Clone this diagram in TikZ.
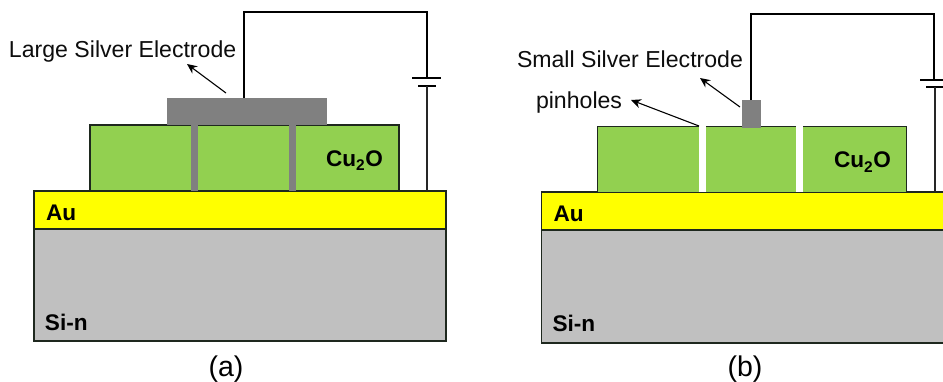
\documentclass[tikz,border=0pt]{standalone}
\usepackage{fontspec}
\setmainfont{Liberation Sans}
\usetikzlibrary{arrows.meta}
\definecolor{cuoxide}{RGB}{146,208,80}
\definecolor{silverel}{RGB}{128,128,128}
\definecolor{sisub}{RGB}{192,192,192}
\definecolor{edgeink}{RGB}{30,40,30}
\definecolor{aulayer}{RGB}{255,255,0}
\newcommand{\cuox}{Cu\raisebox{-4.5pt}{\fontsize{15.5}{16}\selectfont 2}\kern0.6pt O}
\tikzset{
 x=1pt,y=-1pt,
 layer/.style={anchor=north west,inner sep=0pt,outer sep=0pt,draw=edgeink,line width=1.1pt},
 silverbox/.style={anchor=north west,inner sep=0pt,outer sep=0pt,fill=silverel},
 gapbox/.style={anchor=north west,inner sep=0pt,outer sep=0pt},
 lbl/.style={inner sep=0pt,outer sep=0pt,anchor=base west,font=\fontsize{23.1}{26}\selectfont,text=black!95},
 mat/.style={inner sep=0pt,outer sep=0pt,anchor=base west,font=\fontsize{22.6}{26}\selectfont\bfseries},
 captext/.style={inner sep=0pt,outer sep=0pt,anchor=base,font=\fontsize{28.5}{32}\selectfont},
 wire/.style={draw=black,line width=1.6pt,line join=miter},
 thinwire/.style={draw=black!85,line width=1.2pt},
 plate/.style={draw=black,line width=1.6pt},
 pointer/.style={draw=black,line width=1.1pt,-{Stealth[length=10pt,width=9pt]}}
}
\begin{document}
\begin{tikzpicture}
\clip (0,0) rectangle (943,381);
\fill[white] (0,0) rectangle (943,381);
% ---------- panel (a)
\node[layer,fill=sisub,minimum width=412pt,minimum height=112pt] (siA) at (34,229) {};
\node[layer,fill=aulayer,minimum width=412pt,minimum height=38pt] (auA) at (34,191) {};
\node[layer,fill=cuoxide,minimum width=309pt,minimum height=66pt] (cuA) at (90,125) {};
\node[silverbox,minimum width=160pt,minimum height=27pt] (elA) at (167,98) {};
\node[silverbox,minimum width=7pt,minimum height=65.5pt] (pinA1) at (191,125) {};
\node[silverbox,minimum width=7pt,minimum height=65.5pt] (pinA2) at (289,125) {};
\coordinate (wA0) at (244,98);
\coordinate (wA1) at (244,12);
\coordinate (wA2) at (427,12);
\coordinate (wA3) at (427,78);
\coordinate (wA4) at (427,86);
\coordinate (wA5) at (427,191);
\coordinate (pA1l) at (412,78); \coordinate (pA1r) at (441,78);
\coordinate (pA2l) at (418,86); \coordinate (pA2r) at (436,86);
\draw[wire] (wA0) -- (wA1) -- (wA2) -- (wA3);
\draw[plate] (pA1l) -- (pA1r);
\draw[plate] (pA2l) -- (pA2r);
\draw[thinwire] (wA4) -- (wA5);
\node[lbl] (lblA) at (9,57.5) {Large Silver Electrode};
\coordinate (arA) at (226,93);
\coordinate (arAe) at (187,64);
\draw[pointer] (arA) -- (arAe);
\node[mat] (cuTA) at (326,166) {\cuox};
\node[mat] (auTA) at (46,220) {Au};
\node[mat] (siTA) at (45,330) {Si-n};
\node[captext] (capA) at (226,376) {(a)};
% ---------- panel (b)
\node[layer,fill=sisub,minimum width=440pt,minimum height=113pt] (siB) at (541.5,230) {};
\node[layer,fill=aulayer,minimum width=440pt,minimum height=38pt] (auB) at (541.5,192) {};
\node[layer,fill=cuoxide,minimum width=309pt,minimum height=66pt] (cuB) at (597.5,126.5) {};
\node[gapbox,fill=white,minimum width=7pt,minimum height=65.5pt] (pinB1) at (699,126) {};
\node[gapbox,fill=white,minimum width=7pt,minimum height=65.5pt] (pinB2) at (796,126) {};
\node[silverbox,minimum width=19pt,minimum height=27.5pt] (elB) at (742,100) {};
\coordinate (wB0) at (751,100);
\coordinate (wB1) at (751,14);
\coordinate (wB2) at (934,14);
\coordinate (wB3) at (934,80);
\coordinate (wB4) at (935,87);
\coordinate (wB5) at (935,192);
\coordinate (pB1l) at (920,80); \coordinate (pB1r) at (950,80);
\coordinate (pB2l) at (926,87); \coordinate (pB2r) at (950,87);
\draw[wire] (wB0) -- (wB1) -- (wB2) -- (wB3);
\draw[plate] (pB1l) -- (pB1r);
\draw[plate] (pB2l) -- (pB2r);
\draw[thinwire] (wB4) -- (wB5);
\node[lbl] (lblB) at (517,67.5) {Small Silver Electrode};
\node[lbl] (lblP) at (536,108) {pinholes};
\coordinate (arB) at (740,107);
\coordinate (arBe) at (700,78);
\draw[pointer] (arB) -- (arBe);
\coordinate (arP) at (699,126);
\coordinate (arPe) at (631,100);
\draw[pointer] (arP) -- (arPe);
\node[mat] (cuTB) at (834,167.5) {\cuox};
\node[mat] (auTB) at (553.5,221) {Au};
\node[mat] (siTB) at (552.5,331) {Si-n};
\node[captext] (capB) at (745,376) {(b)};
\end{tikzpicture}
\end{document}
